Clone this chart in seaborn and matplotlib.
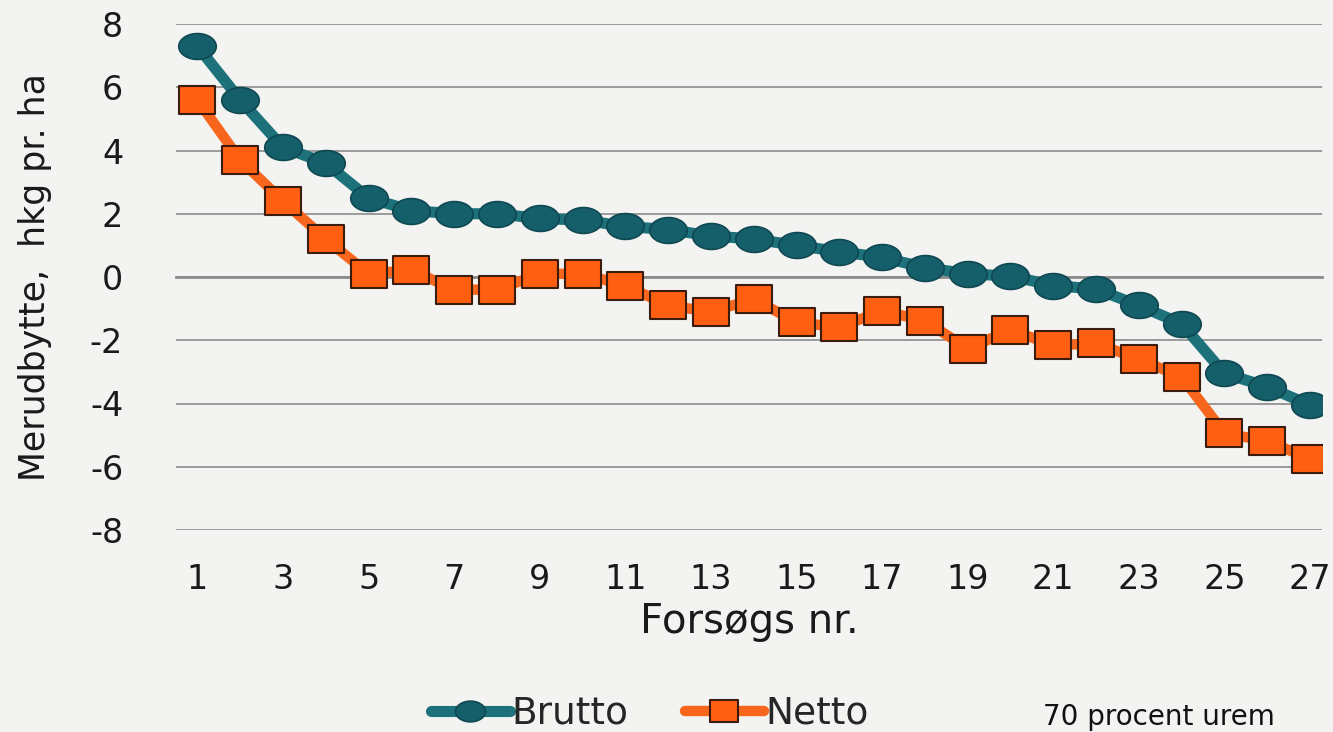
import numpy as np
import pandas as pd
import seaborn as sns
import matplotlib.pyplot as plt
from matplotlib.path import Path

# values
forsoeg = list(range(1, 28))
brutto = [7.3, 5.6, 4.1, 3.6, 2.5, 2.1, 2.0, 2.0, 1.85, 1.8, 1.6, 1.5, 1.3, 1.2, 1.0,
          0.8, 0.62, 0.3, 0.1, 0.03, -0.27, -0.38, -0.9, -1.48, -3.05, -3.47, -4.05]
netto = [5.6, 3.7, 2.4, 1.2, 0.1, 0.22, -0.4, -0.4, 0.1, 0.1, -0.27, -0.9, -1.1, -0.7, -1.43,
         -1.59, -1.07, -1.38, -2.27, -1.67, -2.16, -2.1, -2.6, -3.16, -4.94, -5.19, -5.75]
y_ticks = [-8, -6, -4, -2, 0, 2, 4, 6, 8]
x_ticks = list(range(1, 28, 2))

df = pd.DataFrame({"Forsøg": forsoeg, "Brutto": brutto, "Netto": netto})

sns.set_style("white")
plt.rcParams["font.family"] = ["DejaVu Sans"]

bg = "#f3f3f1"
teal_line = "#1d717b"
teal_mark = "#155f6a"
orange_line = "#f8661d"
orange_mark = "#ff5f10"

# flattened markers, as in the original picture
t = np.linspace(0, 2 * np.pi, 60)
ellipse = Path(np.column_stack([1.45 * np.cos(t), np.sin(t)]), closed=True)
rect = Path([(-1.3, -1), (1.3, -1), (1.3, 1), (-1.3, 1), (-1.3, -1)], closed=True)

fig = plt.figure(figsize=(13.33, 7.32), dpi=100, facecolor=bg)
ax = fig.add_axes([176 / 1333, 1 - 530 / 732, (1322 - 176) / 1333, (530 - 24) / 732])
ax.set_facecolor(bg)

sns.lineplot(data=df, x="Forsøg", y="Netto", ax=ax, color=orange_line, lw=7.5,
             marker=rect, markersize=26, markerfacecolor=orange_mark,
             markeredgecolor="#3b1c0c", markeredgewidth=1.5, label="Netto", zorder=3)
sns.lineplot(data=df, x="Forsøg", y="Brutto", ax=ax, color=teal_line, lw=8,
             marker=ellipse, markersize=27, markerfacecolor=teal_mark,
             markeredgecolor="#0f4852", markeredgewidth=1.2, label="Brutto", zorder=4)

ax.set_xlim(0.5, 27.28)
ax.set_ylim(-8, 8)
ax.set_yticks(y_ticks)
ax.set_yticklabels([str(v) for v in y_ticks])
ax.yaxis.grid(True, color="#9a9a9a", lw=1.4)
ax.tick_params(axis="y", length=0, pad=38, labelsize=24, labelcolor="#1a1a1a")

# x axis line sits at zero with ticks between the trials
for s in ["top", "right", "left"]:
    ax.spines[s].set_visible(False)
ax.spines["bottom"].set_position(("data", 0))
ax.spines["bottom"].set_color("#8c8c8c")
ax.spines["bottom"].set_linewidth(2)
ax.set_xticks(np.arange(0.5, 27, 1))
ax.tick_params(axis="x", length=6, width=1.5, color="#8c8c8c", direction="out", labelbottom=False)
ax.set_xlabel("")
ax.set_ylabel("Merudbytte,  hkg pr. ha", fontsize=25, color="#1a1a1a")
ax.yaxis.set_label_coords(-0.108, 0.5)

# tick labels at the bottom of the plot area
sec = ax.secondary_xaxis(0.0)
sec.set_xticks(x_ticks)
sec.set_xticklabels([str(v) for v in x_ticks])
sec.tick_params(length=0, pad=24, labelsize=24, labelcolor="#1a1a1a")
sec.spines["bottom"].set_visible(False)
sec.set_xlabel("Forsøgs nr.", fontsize=29, color="#1a1a1a", labelpad=4)

handles, labels = ax.get_legend_handles_labels()
ax.legend_.remove()
order = [labels.index("Brutto"), labels.index("Netto")]
fig.legend([handles[i] for i in order], [labels[i] for i in order],
           loc="center", bbox_to_anchor=(650 / 1333, 1 - 714 / 732), ncol=2,
           frameon=False, fontsize=27, handlelength=2.1, handletextpad=0.05,
           columnspacing=1.5, markerscale=0.8)

fig.text(1043 / 1333, 1 - 731 / 732, "70 procent urem", fontsize=20,
         va="bottom", ha="left", color="#111111")

fig.savefig("out.png", dpi=100, facecolor=bg)
